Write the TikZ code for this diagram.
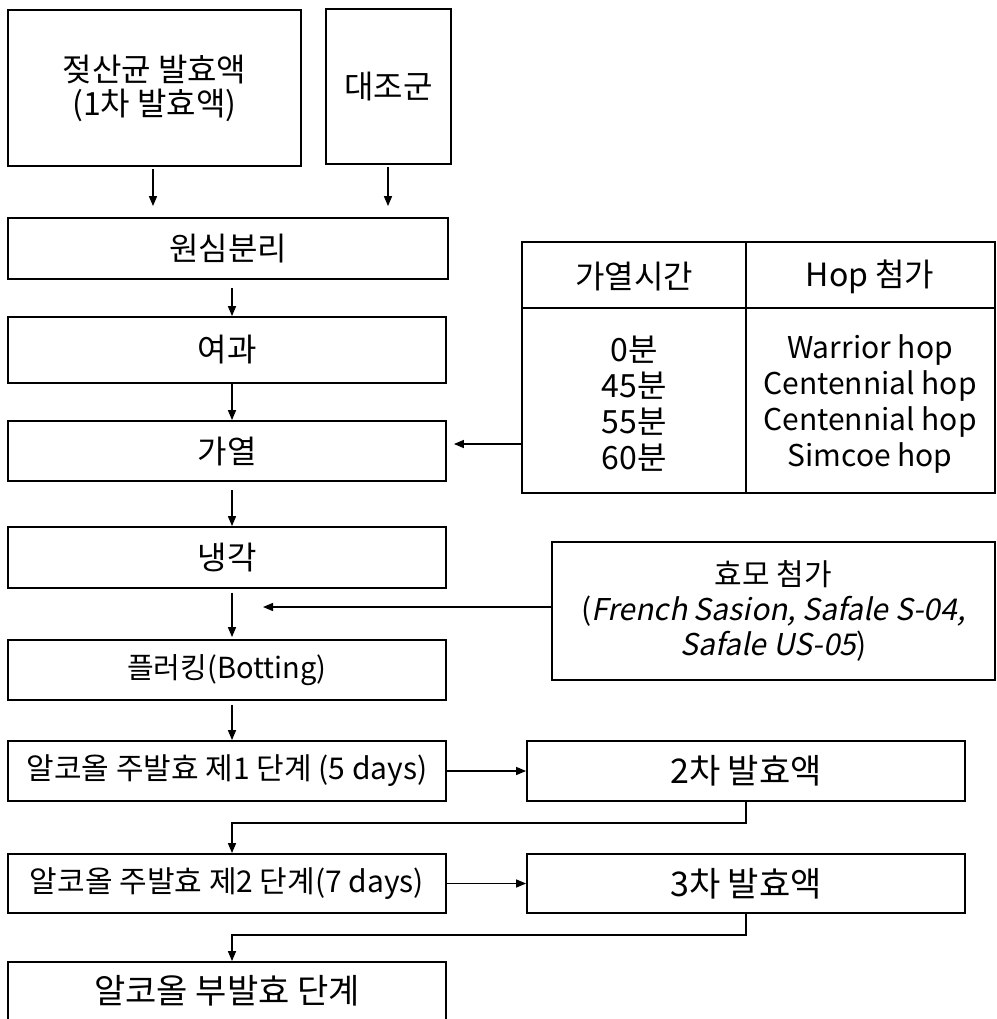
\documentclass[tikz,border=0pt]{standalone}
\usepackage{fontspec}
\setmainfont{Noto Sans CJK KR}
\newfontfamily\krit[FakeSlant=0.2]{Noto Sans CJK KR}
\usetikzlibrary{arrows.meta}
\newcommand\bx[7][]{\node[box,#1, minimum width={(#5-#3)*0.5pt}, minimum height={(#6-#4)*0.5pt}] (#2) at ({(#3+#5)/2},{(#4+#6)/2}) {#7};}
\begin{document}
\begin{tikzpicture}[x=0.5pt,y=-0.5pt,
  box/.style={draw, line width=0.9pt, inner sep=0pt, align=center},
  fa/.style={font=\fontsize{16}{17}\selectfont},
  fl/.style={font=\fontsize{14.5}{17}\selectfont},
  fb/.style={font=\fontsize{15}{17}\selectfont},
  fc/.style={font=\fontsize{17}{18}\selectfont},
  fy/.style={font=\fontsize{15}{17.5}\selectfont},
  ft/.style={font=\fontsize{16}{18}\selectfont, align=center, inner sep=0pt},
  fu/.style={font=\fontsize{15}{18}\selectfont, align=center, inner sep=0pt},
  arr/.style={line width=0.7pt, -{Triangle[length=5pt,width=4pt]}},
  con/.style={line width=0.7pt}]
\useasboundingbox (0,0) rectangle (997,1019);
\bx[fa]{b1}{8}{10}{301}{166}{젖산균 발효액\\(1차 발효액)}
\bx[fa]{ctrl}{326}{9}{451}{164}{대조군}
\bx[fa]{cen}{8}{218}{448}{279}{원심분리}
\bx[fa]{fil}{8}{317}{446}{383}{여과}
\bx[fa]{heat}{8}{421}{446}{481}{가열}
\bx[fa]{cool}{8}{527}{446}{588}{냉각}
\bx[fl]{floc}{8}{640}{446}{700}{플러킹(Botting)}
\bx[fb]{m1}{8}{741}{446}{801}{알코올 주발효 제1 단계 (5 days)}
\bx[fc]{f2}{527}{741}{965}{801}{2차 발효액}
\bx[fb]{m2}{8}{854}{446}{913}{알코올 주발효 제2 단계(7 days)}
\bx[fc]{f3}{527}{854}{965}{913}{3차 발효액}
\bx[fc]{sec}{8}{962}{446}{1020}{알코올 부발효 단계}
% table
\bx{tbl}{522}{242}{995}{493}{}
\draw[line width=0.9pt] (522,308) -- (995,308);
\draw[line width=0.9pt] (746,242) -- (746,493);
\node[ft] (th1) at (634,277) {가열시간};
\node[ft] (th2) at (870,277) {Hop 첨가};
\node[ft] (tb1) at (634,404) {0분\\45분\\55분\\60분};
\node[fu] (tb2) at (870,404) {Warrior hop\\Centennial hop\\Centennial hop\\Simcoe hop};
% yeast
\bx[fy]{yeast}{552}{542}{995}{680}{효모 첨가\\({\krit French Sasion, Safale S-04,}\\{\krit Safale US-05})}
% connectors
\coordinate (lc) at (232,0);
\coordinate (ha) at (522,444);
\coordinate (yt) at (263,607);
\draw[arr,shorten <=1pt,shorten >=5.5pt] (153,0 |- b1.south) -- (153,0 |- cen.north);
\draw[arr,shorten <=1pt,shorten >=5.5pt] (388,0 |- ctrl.south) -- (388,0 |- cen.north);
\draw[arr,shorten <=4pt] (lc |- cen.south) -- (lc |- fil.north);
\draw[arr] (lc |- fil.south) -- (lc |- heat.north);
\draw[arr,shorten <=4pt] (lc |- heat.south) -- (lc |- cool.north);
\draw[arr,shorten <=2pt,shorten >=1pt] (lc |- cool.south) -- (lc |- floc.north);
\draw[arr,shorten <=2pt] (lc |- floc.south) -- (lc |- m1.north);
\draw[arr,shorten >=3.5pt] (ha) -- (heat.east |- ha);
\draw[arr] (yeast.west |- yt) -- (yt);
\draw[arr] (m1.east) -- (f2.west);
\draw[arr] (m2.east) -- (f3.west);
\draw[arr] (f2.south) -- ++(0,21) -| (lc |- m2.north);
\draw[arr] (f3.south) -- ++(0,21) -| (lc |- sec.north);
\end{tikzpicture}
\end{document}
